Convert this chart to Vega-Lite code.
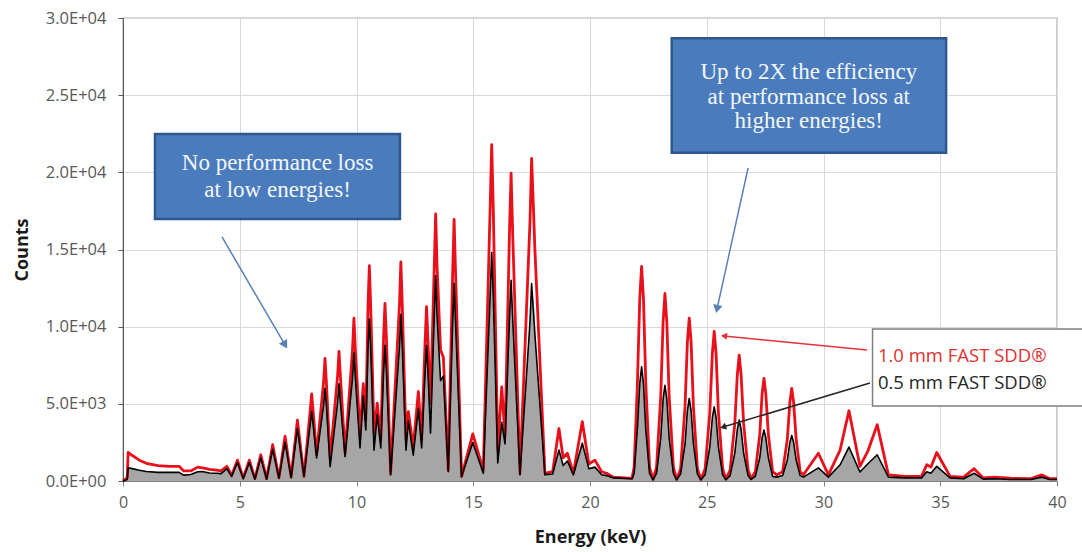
{
  "$schema": "https://vega.github.io/schema/vega-lite/v6.json",
  "autosize": {"type": "none"},
  "padding": {"left": 123, "top": 18, "right": 25, "bottom": 71},
  "width": 934,
  "height": 463,
  "background": "#ffffff",
  "config": {
    "view": {"stroke": "#595959", "strokeWidth": 1.2},
    "axis": {"labelFont": "Open Sans", "titleFont": "Open Sans", "labelColor": "#595959", "titleColor": "#1a1a1a"}
  },
  "resolve": {"scale": {"color": "independent"}},
  "datasets": {
    "spec": [
      {"e": 0.0, "red": 0, "black": 0},
      {"e": 0.18, "red": 200, "black": 100},
      {"e": 0.22, "red": 1850, "black": 850},
      {"e": 0.4, "red": 1650, "black": 800},
      {"e": 0.7, "red": 1350, "black": 700},
      {"e": 1.0, "red": 1150, "black": 620},
      {"e": 1.5, "red": 1000, "black": 560},
      {"e": 2.0, "red": 950, "black": 560},
      {"e": 2.4, "red": 950, "black": 560},
      {"e": 2.6, "red": 650, "black": 380},
      {"e": 2.9, "red": 650, "black": 420},
      {"e": 3.2, "red": 900, "black": 600},
      {"e": 3.4, "red": 850, "black": 620},
      {"e": 3.7, "red": 750, "black": 520},
      {"e": 4.0, "red": 700, "black": 500},
      {"e": 4.2, "red": 650, "black": 480},
      {"e": 4.45, "red": 950, "black": 800},
      {"e": 4.65, "red": 350, "black": 300},
      {"e": 4.9, "red": 1350, "black": 1200},
      {"e": 5.15, "red": 200, "black": 150},
      {"e": 5.41, "red": 1350, "black": 1200},
      {"e": 5.65, "red": 150, "black": 120},
      {"e": 5.9, "red": 1700, "black": 1500},
      {"e": 6.15, "red": 150, "black": 120},
      {"e": 6.41, "red": 2350, "black": 2050},
      {"e": 6.68, "red": 200, "black": 180},
      {"e": 6.94, "red": 2900, "black": 2500},
      {"e": 7.2, "red": 250, "black": 220},
      {"e": 7.47, "red": 3950, "black": 3400},
      {"e": 7.75, "red": 300, "black": 300},
      {"e": 8.02, "red": 4600, "black": 3700},
      {"e": 8.08, "red": 5650, "black": 4500},
      {"e": 8.14, "red": 4600, "black": 3700},
      {"e": 8.29, "red": 1700, "black": 1500},
      {"e": 8.59, "red": 6400, "black": 4900},
      {"e": 8.65, "red": 7950, "black": 6000},
      {"e": 8.71, "red": 6400, "black": 4900},
      {"e": 8.87, "red": 1450, "black": 930},
      {"e": 9.19, "red": 6800, "black": 5100},
      {"e": 9.25, "red": 8400, "black": 6300},
      {"e": 9.31, "red": 6800, "black": 5100},
      {"e": 9.51, "red": 1800, "black": 1570},
      {"e": 9.83, "red": 8500, "black": 6700},
      {"e": 9.89, "red": 10550, "black": 8300},
      {"e": 9.95, "red": 8500, "black": 6700},
      {"e": 10.15, "red": 3100, "black": 2140},
      {"e": 10.29, "red": 6300, "black": 5500},
      {"e": 10.4, "red": 3950, "black": 3300},
      {"e": 10.49, "red": 11200, "black": 8500},
      {"e": 10.55, "red": 13950, "black": 10500},
      {"e": 10.61, "red": 11200, "black": 8500},
      {"e": 10.75, "red": 3100, "black": 2000},
      {"e": 10.89, "red": 5050, "black": 4300},
      {"e": 11.04, "red": 2650, "black": 2140},
      {"e": 11.16, "red": 9300, "black": 7100},
      {"e": 11.22, "red": 11500, "black": 8800},
      {"e": 11.28, "red": 9300, "black": 7100},
      {"e": 11.46, "red": 500, "black": 390},
      {"e": 11.84, "red": 11400, "black": 8700},
      {"e": 11.9, "red": 14200, "black": 10800},
      {"e": 11.96, "red": 11400, "black": 8700},
      {"e": 12.12, "red": 2650, "black": 2000},
      {"e": 12.22, "red": 4500, "black": 3900},
      {"e": 12.43, "red": 2200, "black": 1680},
      {"e": 12.65, "red": 5800, "black": 4700},
      {"e": 12.79, "red": 2650, "black": 2140},
      {"e": 12.94, "red": 9100, "black": 7100},
      {"e": 13.0, "red": 11300, "black": 8800},
      {"e": 13.06, "red": 9100, "black": 7100},
      {"e": 13.17, "red": 5000, "black": 3100},
      {"e": 13.33, "red": 13900, "black": 10700},
      {"e": 13.39, "red": 17300, "black": 13300},
      {"e": 13.45, "red": 13900, "black": 10700},
      {"e": 13.6, "red": 8500, "black": 6500},
      {"e": 13.72, "red": 8000, "black": 6800},
      {"e": 13.93, "red": 700, "black": 600},
      {"e": 14.12, "red": 13600, "black": 10300},
      {"e": 14.18, "red": 16950, "black": 12800},
      {"e": 14.24, "red": 13600, "black": 10300},
      {"e": 14.5, "red": 300, "black": 280},
      {"e": 14.98, "red": 3050, "black": 2500},
      {"e": 15.43, "red": 700, "black": 500},
      {"e": 15.72, "red": 17500, "black": 11900},
      {"e": 15.79, "red": 21800, "black": 14800},
      {"e": 15.86, "red": 17500, "black": 11900},
      {"e": 16.05, "red": 2000, "black": 1170},
      {"e": 16.22, "red": 6100, "black": 3800},
      {"e": 16.36, "red": 2900, "black": 2400},
      {"e": 16.55, "red": 16000, "black": 10500},
      {"e": 16.62, "red": 19950, "black": 13000},
      {"e": 16.69, "red": 16000, "black": 10500},
      {"e": 17.0, "red": 500, "black": 400},
      {"e": 17.43, "red": 16800, "black": 10300},
      {"e": 17.5, "red": 20900, "black": 12800},
      {"e": 17.57, "red": 18000, "black": 11200},
      {"e": 17.64, "red": 15000, "black": 9500},
      {"e": 18.07, "red": 500, "black": 400},
      {"e": 18.4, "red": 600, "black": 450},
      {"e": 18.67, "red": 3400, "black": 2000},
      {"e": 18.85, "red": 1500, "black": 1000},
      {"e": 19.03, "red": 1800, "black": 1300},
      {"e": 19.29, "red": 500, "black": 400},
      {"e": 19.67, "red": 3850, "black": 2450},
      {"e": 19.95, "red": 1100, "black": 800},
      {"e": 20.21, "red": 1350, "black": 900},
      {"e": 20.5, "red": 600, "black": 400},
      {"e": 20.71, "red": 500, "black": 350},
      {"e": 21.0, "red": 250, "black": 200},
      {"e": 21.8, "red": 170, "black": 150},
      {"e": 21.89, "red": 900, "black": 500},
      {"e": 22.03, "red": 6300, "black": 3400},
      {"e": 22.13, "red": 11800, "black": 6300},
      {"e": 22.21, "red": 13900, "black": 7400},
      {"e": 22.29, "red": 11800, "black": 6300},
      {"e": 22.39, "red": 6300, "black": 3300},
      {"e": 22.55, "red": 900, "black": 500},
      {"e": 22.7, "red": 100, "black": 80},
      {"e": 22.85, "red": 900, "black": 500},
      {"e": 23.03, "red": 5500, "black": 2800},
      {"e": 23.13, "red": 10300, "black": 5300},
      {"e": 23.21, "red": 12150, "black": 6200},
      {"e": 23.29, "red": 10300, "black": 5300},
      {"e": 23.39, "red": 5500, "black": 2800},
      {"e": 23.57, "red": 900, "black": 500},
      {"e": 23.71, "red": 100, "black": 80},
      {"e": 23.88, "red": 800, "black": 450},
      {"e": 24.07, "red": 4800, "black": 2400},
      {"e": 24.17, "red": 9000, "black": 4550},
      {"e": 24.25, "red": 10550, "black": 5350},
      {"e": 24.33, "red": 9000, "black": 4550},
      {"e": 24.43, "red": 4800, "black": 2400},
      {"e": 24.6, "red": 800, "black": 450},
      {"e": 24.75, "red": 100, "black": 80},
      {"e": 24.93, "red": 800, "black": 400},
      {"e": 25.13, "red": 4400, "black": 2200},
      {"e": 25.24, "red": 8250, "black": 4100},
      {"e": 25.32, "red": 9700, "black": 4800},
      {"e": 25.4, "red": 8250, "black": 4100},
      {"e": 25.5, "red": 4400, "black": 2200},
      {"e": 25.68, "red": 800, "black": 400},
      {"e": 25.82, "red": 120, "black": 80},
      {"e": 26.0, "red": 700, "black": 350},
      {"e": 26.2, "red": 3700, "black": 1800},
      {"e": 26.31, "red": 6900, "black": 3350},
      {"e": 26.39, "red": 8150, "black": 3950},
      {"e": 26.47, "red": 6900, "black": 3350},
      {"e": 26.58, "red": 3700, "black": 1800},
      {"e": 26.77, "red": 700, "black": 350},
      {"e": 26.9, "red": 150, "black": 100},
      {"e": 27.08, "red": 600, "black": 300},
      {"e": 27.27, "red": 3000, "black": 1500},
      {"e": 27.37, "red": 5650, "black": 2800},
      {"e": 27.45, "red": 6650, "black": 3300},
      {"e": 27.53, "red": 5650, "black": 2800},
      {"e": 27.64, "red": 3000, "black": 1500},
      {"e": 27.82, "red": 600, "black": 300},
      {"e": 28.0, "red": 400, "black": 250},
      {"e": 28.25, "red": 600, "black": 350},
      {"e": 28.45, "red": 2700, "black": 1350},
      {"e": 28.56, "red": 5100, "black": 2500},
      {"e": 28.64, "red": 6000, "black": 2950},
      {"e": 28.72, "red": 5100, "black": 2500},
      {"e": 28.83, "red": 2700, "black": 1350},
      {"e": 29.0, "red": 600, "black": 350},
      {"e": 29.14, "red": 400, "black": 250},
      {"e": 29.78, "red": 1800, "black": 850},
      {"e": 30.21, "red": 400, "black": 250},
      {"e": 30.71, "red": 2000, "black": 1050},
      {"e": 31.09, "red": 4550, "black": 2200},
      {"e": 31.56, "red": 950, "black": 580},
      {"e": 31.89, "red": 1900, "black": 1100},
      {"e": 32.3, "red": 3650, "black": 1700},
      {"e": 32.78, "red": 400, "black": 250},
      {"e": 33.5, "red": 300, "black": 200},
      {"e": 34.2, "red": 300, "black": 200},
      {"e": 34.42, "red": 1050, "black": 600},
      {"e": 34.6, "red": 900, "black": 500},
      {"e": 34.85, "red": 1850, "black": 950},
      {"e": 35.42, "red": 300, "black": 200},
      {"e": 36.0, "red": 250, "black": 150},
      {"e": 36.45, "red": 800, "black": 500},
      {"e": 36.84, "red": 200, "black": 120},
      {"e": 37.3, "red": 250, "black": 150},
      {"e": 38.0, "red": 180, "black": 100},
      {"e": 38.9, "red": 150, "black": 100},
      {"e": 39.34, "red": 400, "black": 250},
      {"e": 39.7, "red": 150, "black": 100},
      {"e": 40.0, "red": 150, "black": 100}
    ],
    "boxes": [
      {"kind": "blue", "x1": 1.37, "x2": 11.86, "y1": 22486, "y2": 16978},
      {"kind": "blue", "x1": 23.5, "x2": 35.25, "y1": 28687, "y2": 21274},
      {"kind": "legend", "x1": 32.1, "x2": 41.4, "y1": 9850, "y2": 4860}
    ],
    "notes": [
      {"kind": "blue", "x": 6.62, "y": 20606, "t": "No performance loss"},
      {"kind": "blue", "x": 6.62, "y": 18857, "t": "at low energies!"},
      {"kind": "blue", "x": 29.37, "y": 26503, "t": "Up to 2X the efficiency"},
      {"kind": "blue", "x": 29.37, "y": 24883, "t": "at performance loss at"},
      {"kind": "blue", "x": 29.37, "y": 23328, "t": "higher energies!"},
      {"kind": "red", "x": 32.33, "y": 8100, "t": "1.0 mm FAST SDD®"},
      {"kind": "black", "x": 32.33, "y": 6350, "t": "0.5 mm FAST SDD®"}
    ],
    "arrows": [
      {"id": "a1", "x1": 4.24, "y1": 15811, "x2": 6.94, "y2": 8813},
      {"id": "a2", "x1": 26.77, "y1": 20282, "x2": 25.44, "y2": 11146},
      {"id": "ar", "x1": 31.86, "y1": 8489, "x2": 25.74, "y2": 9396},
      {"id": "ab", "x1": 31.99, "y1": 6350, "x2": 25.7, "y2": 3499}
    ]
  },
  "layer": [
    {
      "data": {"name": "spec"},
      "mark": {"type": "area", "color": "#a6a6a6", "interpolate": "linear"},
      "encoding": {
        "x": {"field": "e", "type": "quantitative", "title": "Energy (keV)", "scale": {"domain": [0, 40], "nice": false},
          "axis": {
            "title": "Energy (keV)",
            "values": [0,5,10,15,20,25,30,35,40],
            "labelFontSize": 16, "labelPadding": 8, "labelFlush": false, "labelOverlap": false,
            "titleFontSize": 18, "titleFontWeight": "bold", "titlePadding": 18,
            "tickSize": 5, "tickColor": "#7f7f7f", "domainColor": "#7f7f7f",
            "grid": true, "gridColor": "#d9d9d9"
          }},
        "y": {"field": "black", "type": "quantitative", "title": "Counts", "scale": {"domain": [0, 30000], "nice": false},
          "axis": {
            "title": "Counts",
            "values": [0,5000,10000,15000,20000,25000,30000],
            "labelExpr": "datum.value == 0 ? '0.0E+00' : (datum.value < 10000 ? format(datum.value / 1000, '.1f') + 'E+03' : format(datum.value / 10000, '.1f') + 'E+04')",
            "labelFontSize": 16.5, "labelPadding": 12, "labelOverlap": false, "labelFlush": false,
            "titleFontSize": 18, "titleFontWeight": "bold", "titlePadding": 14,
            "tickSize": 5, "tickColor": "#595959", "domainColor": "#595959",
            "grid": true, "gridColor": "#d9d9d9"
          }}
      }
    },
    {
      "data": {"name": "spec"},
      "mark": {"type": "line", "color": "#e8101a", "strokeWidth": 2.8, "strokeJoin": "round", "interpolate": "linear"},
      "encoding": {
        "x": {"field": "e", "type": "quantitative", "title": "Energy (keV)"},
        "y": {"field": "red", "type": "quantitative", "title": "Counts"}
      }
    },
    {
      "data": {"name": "spec"},
      "mark": {"type": "line", "color": "#000000", "strokeWidth": 1.6, "strokeJoin": "round", "interpolate": "linear"},
      "encoding": {
        "x": {"field": "e", "type": "quantitative", "title": "Energy (keV)"},
        "y": {"field": "black", "type": "quantitative", "title": "Counts"}
      }
    },
    {
      "data": {"name": "arrows"},
      "mark": {"type": "rule", "strokeWidth": 1.5},
      "encoding": {
        "x": {"field": "x1", "type": "quantitative", "title": "Energy (keV)"},
        "y": {"field": "y1", "type": "quantitative", "title": "Counts"},
        "x2": {"field": "x2"},
        "y2": {"field": "y2"},
        "color": {"field": "id", "type": "nominal", "legend": null,
          "scale": {"domain": ["a1", "a2", "ar", "ab"], "range": ["#5a80b8", "#5a80b8", "#e8303a", "#262626"]}}
      }
    },
    {
      "data": {"name": "arrows"},
      "transform": [{"filter": "datum.id == 'a1'"}],
      "mark": {"type": "point", "shape": "triangle-up", "filled": true, "color": "#5a80b8", "size": 90, "angle": 150, "opacity": 1},
      "encoding": {"x": {"field": "x2", "type": "quantitative", "title": "Energy (keV)"}, "y": {"field": "y2", "type": "quantitative", "title": "Counts"}}
    },
    {
      "data": {"name": "arrows"},
      "transform": [{"filter": "datum.id == 'a2'"}],
      "mark": {"type": "point", "shape": "triangle-up", "filled": true, "color": "#5a80b8", "size": 90, "angle": 192, "opacity": 1},
      "encoding": {"x": {"field": "x2", "type": "quantitative", "title": "Energy (keV)"}, "y": {"field": "y2", "type": "quantitative", "title": "Counts"}}
    },
    {
      "data": {"name": "arrows"},
      "transform": [{"filter": "datum.id == 'ar'"}],
      "mark": {"type": "point", "shape": "triangle-up", "filled": true, "color": "#e8303a", "size": 50, "angle": 276, "opacity": 1},
      "encoding": {"x": {"field": "x2", "type": "quantitative", "title": "Energy (keV)"}, "y": {"field": "y2", "type": "quantitative", "title": "Counts"}}
    },
    {
      "data": {"name": "arrows"},
      "transform": [{"filter": "datum.id == 'ab'"}],
      "mark": {"type": "point", "shape": "triangle-up", "filled": true, "color": "#262626", "size": 50, "angle": 253, "opacity": 1},
      "encoding": {"x": {"field": "x2", "type": "quantitative", "title": "Energy (keV)"}, "y": {"field": "y2", "type": "quantitative", "title": "Counts"}}
    },
    {
      "data": {"name": "boxes"},
      "transform": [{"filter": "datum.kind == 'blue'"}],
      "mark": {"type": "rect", "fill": "#4a7cbd", "stroke": "#2f578f", "strokeWidth": 2.5},
      "encoding": {
        "x": {"field": "x1", "type": "quantitative", "title": "Energy (keV)"}, "x2": {"field": "x2"},
        "y": {"field": "y1", "type": "quantitative", "title": "Counts"}, "y2": {"field": "y2"}
      }
    },
    {
      "data": {"name": "boxes"},
      "transform": [{"filter": "datum.kind == 'legend'"}],
      "mark": {"type": "rect", "fill": "#ffffff", "stroke": "#7f7f7f", "strokeWidth": 1.5},
      "encoding": {
        "x": {"field": "x1", "type": "quantitative", "title": "Energy (keV)"}, "x2": {"field": "x2"},
        "y": {"field": "y1", "type": "quantitative", "title": "Counts"}, "y2": {"field": "y2"}
      }
    },
    {
      "data": {"name": "notes"},
      "transform": [{"filter": "datum.kind == 'blue'"}],
      "mark": {"type": "text", "font": "Liberation Serif", "fontSize": 23, "color": "#f2f6fc", "align": "center", "baseline": "middle"},
      "encoding": {
        "x": {"field": "x", "type": "quantitative", "title": "Energy (keV)"},
        "y": {"field": "y", "type": "quantitative", "title": "Counts"},
        "text": {"field": "t"}
      }
    },
    {
      "data": {"name": "notes"},
      "transform": [{"filter": "datum.kind != 'blue'"}],
      "mark": {"type": "text", "font": "Open Sans", "fontSize": 18.5, "align": "left", "baseline": "middle"},
      "encoding": {
        "x": {"field": "x", "type": "quantitative", "title": "Energy (keV)"},
        "y": {"field": "y", "type": "quantitative", "title": "Counts"},
        "text": {"field": "t"},
        "color": {"field": "kind", "type": "nominal", "legend": null,
          "scale": {"domain": ["red", "black"], "range": ["#e0302f", "#262626"]}}
      }
    }
  ]
}
